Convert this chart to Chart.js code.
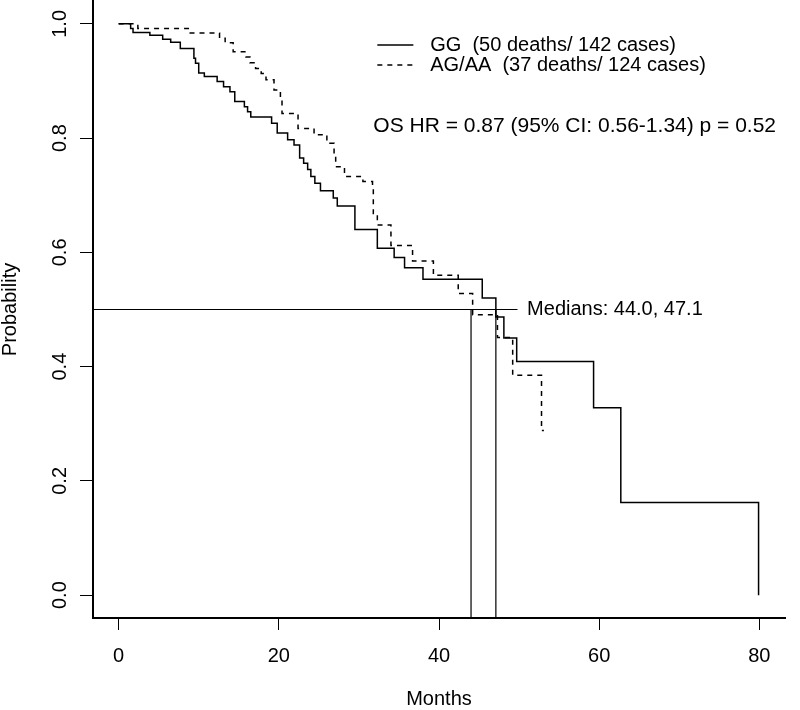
<!DOCTYPE html>
<html>
<head>
<meta charset="utf-8">
<script src="https://cdn.jsdelivr.net/npm/chart.js@4"></script>
<style>
  html, body { margin: 0; padding: 0; background: #fff; }
  #wrap { width: 800px; height: 710px; }
</style>
</head>
<body>
<div id="wrap"><canvas id="kmChart" width="800" height="710"></canvas></div>
<script>
// Kaplan-Meier steps: event time (months) -> survival after it
const ggTimes = [0, 1.5, 1.8, 3.9, 5.5, 6.5, 7.7, 9.4, 9.6, 10.0, 10.7, 12.3, 13.1, 13.9, 14.5,
  15.7, 16.1, 16.5, 19.1, 19.8, 21.1, 21.9, 22.6, 23.1, 23.6, 24.0, 24.5, 25.2, 26.8, 27.3,
  29.5, 32.3, 34.4, 35.7, 38.0, 45.4, 47.1, 48.1, 49.7, 59.3, 62.7, 79.9];
const ggSurv = [1.0, 0.992, 0.985, 0.980, 0.973, 0.968, 0.957, 0.940, 0.931, 0.914, 0.908, 0.899, 0.890, 0.881, 0.864,
  0.855, 0.846, 0.837, 0.826, 0.809, 0.797, 0.788, 0.765, 0.756, 0.745, 0.733, 0.721, 0.708, 0.695, 0.681,
  0.640, 0.607, 0.591, 0.573, 0.553, 0.520, 0.487, 0.450, 0.409, 0.328, 0.162, 0.0];

const agTimes = [0, 2.4, 8.8, 12.6, 13.3, 14.3, 15.9, 16.4, 17.1, 17.8, 18.4, 19.4, 20.2, 20.4,
  22.4, 24.4, 26.0, 26.9, 27.1, 28.2, 30.5, 31.7, 31.8, 32.3, 34.0, 36.7, 39.3, 42.4, 44.2,
  47.3, 49.2, 52.8, 53.1];
const agSurv = [1.0, 0.992, 0.984, 0.975, 0.967, 0.951, 0.942, 0.932, 0.922, 0.913, 0.902, 0.884, 0.867, 0.843,
  0.817, 0.806, 0.791, 0.770, 0.750, 0.733, 0.724, 0.712, 0.668, 0.648, 0.612, 0.585, 0.560, 0.528, 0.491,
  0.451, 0.385, 0.288, 0.288];

const medians = [44.0, 47.1];
const xTicks = [0, 20, 40, 60, 80];
const yTicks = [0.0, 0.2, 0.4, 0.6, 0.8, 1.0];
const legendLabels = ['GG  (50 deaths/ 142 cases)', 'AG/AA  (37 deaths/ 124 cases)'];
const hrText = 'OS HR = 0.87 (95% CI: 0.56-1.34) p = 0.52';
const medianText = 'Medians: 44.0, 47.1';

const ink = '#000';
const FONT = '"Liberation Sans", Arial, sans-serif';

function pts(xs, ys) {
  return xs.map((x, i) => ({ x: x, y: ys[i] }));
}

// text, legend and rotated y labels
const annotate = {
  id: 'annotate',
  afterDraw(chart) {
    const ctx = chart.ctx;
    const xs = chart.scales.x, ys = chart.scales.y;
    ctx.save();
    ctx.fillStyle = ink;
    ctx.strokeStyle = ink;

    // y tick labels, parallel to axis like R
    ctx.font = '20px ' + FONT;
    ctx.textAlign = 'center';
    ctx.textBaseline = 'middle';
    yTicks.forEach(v => {
      ctx.save();
      ctx.translate(60, ys.getPixelForValue(v));
      ctx.rotate(-Math.PI / 2);
      ctx.fillText(v.toFixed(1), 0, 0);
      ctx.restore();
    });

    // legend
    const lx0 = xs.getPixelForValue(32.3), lx1 = xs.getPixelForValue(36.8);
    const rows = [0.963, 0.928];
    ctx.textAlign = 'left';
    ctx.lineWidth = 1.4;
    rows.forEach((r, i) => {
      const py = ys.getPixelForValue(r);
      ctx.setLineDash(i === 0 ? [] : [5, 5]);
      ctx.beginPath();
      ctx.moveTo(lx0, py);
      ctx.lineTo(lx1, py);
      ctx.stroke();
      ctx.fillText(legendLabels[i], xs.getPixelForValue(38.9), py);
    });
    ctx.setLineDash([]);

    ctx.font = '21px ' + FONT;
    ctx.fillText(hrText, xs.getPixelForValue(31.8), ys.getPixelForValue(0.82));

    ctx.font = '20px ' + FONT;
    ctx.fillText(medianText, xs.getPixelForValue(51.0), ys.getPixelForValue(0.5));
    ctx.restore();
  }
};

new Chart(document.getElementById('kmChart'), {
  type: 'line',
  data: {
    datasets: [
      { label: 'GG', data: pts(ggTimes, ggSurv), stepped: 'before', borderColor: ink, borderWidth: 1.5, pointRadius: 0 },
      { label: 'AG/AA', data: pts(agTimes, agSurv), stepped: 'before', borderColor: ink, borderWidth: 1.5, borderDash: [5, 5], pointRadius: 0 },
      { label: 'median', data: [{ x: -3.2, y: 0.5 }, { x: 49.8, y: 0.5 }], borderColor: ink, borderWidth: 1.2, pointRadius: 0 },
      { label: 'm1', data: [{ x: medians[0], y: 0.5 }, { x: medians[0], y: -0.04 }], borderColor: ink, borderWidth: 1.2, pointRadius: 0 },
      { label: 'm2', data: [{ x: medians[1], y: 0.5 }, { x: medians[1], y: -0.04 }], borderColor: ink, borderWidth: 1.2, pointRadius: 0 }
    ]
  },
  options: {
    responsive: false,
    animation: false,
    devicePixelRatio: 1,
    layout: { padding: { top: 1, right: 15, left: 0, bottom: 0 } },
    plugins: { legend: { display: false }, tooltip: { enabled: false } },
    scales: {
      x: {
        type: 'linear',
        min: -3.2,
        max: 83.2,
        afterBuildTicks: s => { s.ticks = xTicks.map(v => ({ value: v })); },
        afterFit: s => { s.height = 92; },
        ticks: { color: ink, font: { size: 20, family: FONT }, padding: 14, maxRotation: 0 },
        grid: { drawOnChartArea: false, drawTicks: true, tickLength: 12, color: ink, tickWidth: 1 },
        border: { display: true, color: ink, width: 2 },
        title: { display: true, text: 'Months', color: ink, font: { size: 20, family: FONT, lineHeight: 1 }, padding: { top: 0, bottom: 1 } }
      },
      y: {
        type: 'linear',
        min: -0.04,
        max: 1.04,
        afterBuildTicks: s => { s.ticks = yTicks.map(v => ({ value: v })); },
        afterFit: s => { s.width = 93; },
        ticks: { display: false },
        grid: { drawOnChartArea: false, drawTicks: true, tickLength: 13, color: ink, tickWidth: 1 },
        border: { display: true, color: ink, width: 2 },
        title: { display: true, text: 'Probability', color: ink, font: { size: 20, family: FONT, lineHeight: 1 }, padding: 0 }
      }
    }
  },
  plugins: [annotate]
});
</script>
</body>
</html>
